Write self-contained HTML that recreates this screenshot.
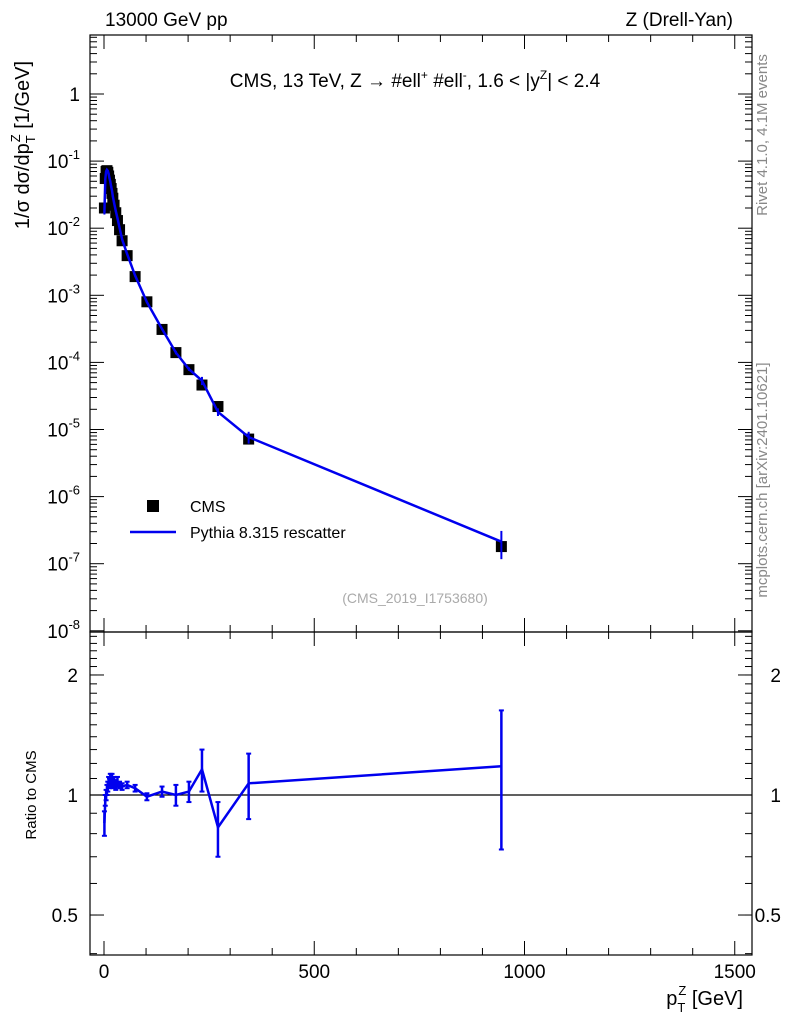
<!DOCTYPE html>
<html><head><meta charset="utf-8"><style>
body{margin:0;background:#fff;font-family:"Liberation Sans",sans-serif}
svg text{font-family:"Liberation Sans","DejaVu Sans",sans-serif}
</style></head><body>
<svg id="c" width="786" height="1024" xmlns="http://www.w3.org/2000/svg">
<rect x="0" y="0" width="786" height="1024" fill="#fff"/>
<text x="105" y="26" font-size="19">13000 GeV pp</text>
<text x="733" y="26" font-size="19" text-anchor="end">Z (Drell-Yan)</text>
<text x="415" y="87" font-size="19" text-anchor="middle">CMS, 13 TeV, Z → #ell<tspan font-size="12" dy="-8">+</tspan><tspan dy="8"> #ell</tspan><tspan font-size="12" dy="-8">-</tspan><tspan dy="8">, 1.6 &lt; |y</tspan><tspan font-size="12" dy="-8">Z</tspan><tspan dy="8">| &lt; 2.4</tspan></text>
<text transform="translate(767,135) rotate(-90)" font-size="15" fill="#888" text-anchor="middle">Rivet 4.1.0,  4.1M events</text>
<text transform="translate(767,480) rotate(-90)" font-size="15" fill="#888" text-anchor="middle">mcplots.cern.ch [arXiv:2401.10621]</text>
<text x="415" y="603" font-size="14" fill="#aaa" text-anchor="middle">(CMS_2019_I1753680)</text>
<text transform="translate(29,145) rotate(-90)" font-size="20" text-anchor="middle">1/σ dσ/dp<tspan font-size="13" dy="6">T</tspan><tspan font-size="13" dx="-7" dy="-15">Z</tspan><tspan dy="9"> [1/GeV]</tspan></text>
<text transform="translate(36,795) rotate(-90)" font-size="15" text-anchor="middle">Ratio to CMS</text>
<text x="743" y="1005" font-size="20" text-anchor="end">p<tspan font-size="13" dy="7">T</tspan><tspan font-size="13" dx="-7" dy="-17">Z</tspan><tspan dy="10"> [GeV]</tspan></text>
<rect x="147" y="500" width="12" height="12" fill="#000"/>
<text x="190" y="512" font-size="16">CMS</text>
<line x1="130" y1="532" x2="176" y2="532" stroke="#0000ee" stroke-width="2.5"/>
<text x="190" y="538" font-size="16">Pythia 8.315 rescatter</text>
<g id="g"></g>
</svg>
<script>
const pT=[1,3,5,7,9,11,13,15,17,19,21,24,28,32,37,43,55,74,102,138,171,202,233,271,344,945];
const cmsVal=[0.020,0.055,0.070,0.072,0.068,0.060,0.052,0.045,0.039,0.033,0.028,0.022,0.017,0.013,0.0095,0.0065,0.0039,0.0019,0.00080,0.00031,0.00014,0.000078,0.000046,0.000022,0.0000072,0.00000018];
const ratio=[0.85,0.97,1.0,1.03,1.05,1.08,1.07,1.1,1.08,1.1,1.07,1.08,1.06,1.08,1.06,1.05,1.06,1.04,0.99,1.02,1.0,1.02,1.16,0.83,1.07,1.18];
const ratioErr=[0.06,0.03,0.03,0.03,0.03,0.03,0.03,0.03,0.03,0.03,0.03,0.03,0.03,0.03,0.02,0.02,0.02,0.02,0.02,0.03,0.06,0.06,0.14,0.13,0.2,0.45];
const xTicks=[0,500,1000,1500];
const ratioTicks=[0.5,1,2];
const NS="http://www.w3.org/2000/svg",g=document.getElementById('g');
const L=90,R=752,T=35,MB=632,RB=955;
const X=v=>104+v*0.4205;
const Y=v=>94-67.1*Math.log10(v);
const YR=v=>795-398.7*Math.log10(v);
function el(t,a,p){const e=document.createElementNS(NS,t);for(const k in a)e.setAttribute(k,a[k]);(p||g).appendChild(e);return e;}
function ln(x1,y1,x2,y2,w,c){return el('line',{x1,y1,x2,y2,stroke:c||'#000','stroke-width':w||1});}
let e;
e=el('rect',{x:L,y:T,width:R-L,height:MB-T,fill:'none',stroke:'#000','stroke-width':1.2});


e=el('rect',{x:L,y:MB,width:R-L,height:RB-MB,fill:'none',stroke:'#000','stroke-width':1.2});


for(let v=0;v<=1500;v+=100){const x=X(v),len=v%500==0?14:7;
[[MB,-1],[T,1],[RB,-1],[MB,1]].forEach(([y,d])=>ln(x,y,x,y+d*len));}
xTicks.forEach(v=>{const t=el('text',{x:X(v),y:978,'font-size':19,'text-anchor':'middle'});t.textContent=v;

});
for(let p=-8;p<=0;p++){const y=Y(Math.pow(10,p));
ln(L,y,L+14,y);ln(R,y,R-14,y);
const t=el('text',{x:80,y:y+7,'font-size':19,'text-anchor':'end'});
if(p==0)t.textContent='1';else{t.textContent='10';const s=el('tspan',{'font-size':13,dy:-9},t);s.textContent=p;}


for(let m=2;m<=9;m++){const ym=Y(m*Math.pow(10,p));if(ym<T)continue;ln(L,ym,L+7,ym);ln(R,ym,R-7,ym);}}
for(let v=0.4;v<2.6;v+=0.1){const y=YR(v);if(y<MB||y>RB)continue;ln(L,y,L+7,y);ln(R,y,R-7,y);}
ratioTicks.forEach(v=>{const y=YR(v);ln(L,y,L+14,y);ln(R,y,R-14,y);
[[78,'end'],[781,'end']].forEach(([x,a])=>{const t=el('text',{x,y:y+7,'font-size':19,'text-anchor':a});t.textContent=v;

});});
e=ln(L,YR(1),R,YR(1),1.2);


pT.forEach((p,i)=>{const x=X(p),y=Y(cmsVal[i]);
const r=el('rect',{x:x-5.5,y:y-5.5,width:11,height:11,fill:'#000'});

});
let d='';pT.forEach((p,i)=>{d+=(i?'L':'M')+X(p).toFixed(1)+','+Y(cmsVal[i]*ratio[i]).toFixed(1);});
e=el('path',{d,fill:'none',stroke:'#0000ee','stroke-width':2.5});


pT.forEach((p,i)=>{const x=X(p),v=cmsVal[i]*ratio[i],y1=Y(v*(1+ratioErr[i])),y2=Y(v*Math.max(0.05,1-ratioErr[i]));
const b=ln(x,y1,x,y2,2,'#0000ee');

});
d='';pT.forEach((p,i)=>{d+=(i?'L':'M')+X(p).toFixed(1)+','+YR(ratio[i]).toFixed(1);});
e=el('path',{d,fill:'none',stroke:'#0000ee','stroke-width':2.5});


pT.forEach((p,i)=>{const x=X(p),y1=YR(ratio[i]+ratioErr[i]),y2=YR(ratio[i]-ratioErr[i]);
const b=ln(x,y1,x,y2,2.5,'#0000ee');


ln(x-2.5,y1,x+2.5,y1,2,'#0000ee');ln(x-2.5,y2,x+2.5,y2,2,'#0000ee');});
</script>
</body></html>
